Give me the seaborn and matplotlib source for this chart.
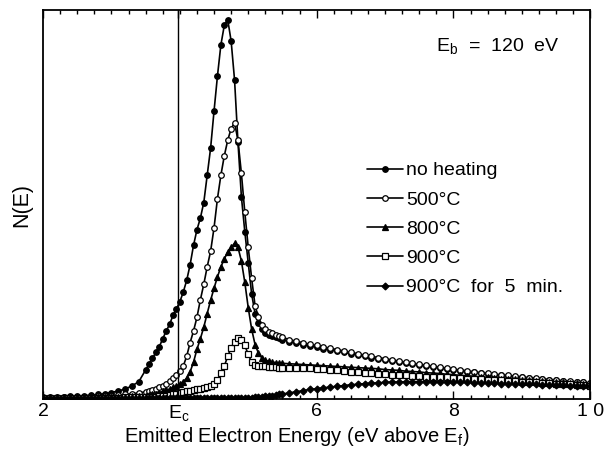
import matplotlib
matplotlib.use('Agg')
import matplotlib.pyplot as plt
from matplotlib.ticker import MultipleLocator
import pandas as pd
import seaborn as sns


energy = [
    2.0, 2.1, 2.2, 2.3, 2.4, 2.5, 2.6, 2.7, 2.8, 2.9, 3.0, 3.1, 3.2, 3.3, 3.4,
    3.5, 3.55, 3.6, 3.65, 3.7, 3.75, 3.8, 3.85, 3.9, 3.95,
    4.0, 4.05, 4.1, 4.15, 4.2, 4.25, 4.3, 4.35, 4.4, 4.45,
    4.5, 4.55, 4.6, 4.65, 4.7, 4.75, 4.8, 4.85, 4.9, 4.95,
    5.0, 5.05, 5.1, 5.15, 5.2, 5.25, 5.3, 5.35, 5.4, 5.45,
    5.5, 5.6, 5.7, 5.8, 5.9, 6.0, 6.1, 6.2, 6.3, 6.4,
    6.5, 6.6, 6.7, 6.8, 6.9, 7.0, 7.1, 7.2, 7.3, 7.4,
    7.5, 7.6, 7.7, 7.8, 7.9, 8.0, 8.1, 8.2, 8.3, 8.4,
    8.5, 8.6, 8.7, 8.8, 8.9, 9.0, 9.1, 9.2, 9.3, 9.4,
    9.5, 9.6, 9.7, 9.8, 9.9, 10.0,
]

no_heating = [
    0.5, 0.5, 0.6, 0.6, 0.7, 0.8, 0.9, 1.0, 1.2, 1.4, 1.7, 2.1, 2.6, 3.4, 4.5,
    7.5, 9.0, 10.5, 12.0, 13.5, 15.5, 17.5, 19.2, 21.5, 23.2,
    25.0, 27.5, 30.5, 34.5, 39.5, 43.5, 46.5, 50.5, 57.5, 64.5,
    74.0, 83.0, 91.0, 96.0, 97.5, 92.0, 82.0, 66.0, 52.0, 43.0,
    35.0, 27.0, 22.0, 19.5, 18.0, 17.0, 16.5, 16.2, 15.9, 15.6,
    15.3, 14.8, 14.4, 14.0, 13.7, 13.4, 13.0, 12.7, 12.4, 12.0,
    11.7, 11.4, 11.0, 10.7, 10.4, 10.1, 9.8, 9.6, 9.3, 9.0,
    8.8, 8.5, 8.3, 8.0, 7.8, 7.5, 7.3, 7.1, 6.9, 6.7,
    6.5, 6.3, 6.1, 6.0, 5.8, 5.6, 5.4, 5.3, 5.1, 5.0,
    4.8, 4.7, 4.5, 4.4, 4.3, 4.1,
]

heated_500 = [
    0.4, 0.4, 0.4, 0.5, 0.5, 0.5, 0.6, 0.6, 0.7, 0.8, 0.9, 1.0, 1.2, 1.4, 1.6,
    1.9, 2.1, 2.3, 2.6, 3.0, 3.5, 4.0, 4.6, 5.4, 6.3,
    7.3, 8.5, 11.0, 14.5, 17.5, 21.0, 25.5, 29.5, 34.0, 38.0,
    44.0, 51.5, 57.5, 62.5, 66.5, 69.5, 71.0, 66.5, 58.0, 48.0,
    39.0, 31.0, 24.0, 21.0, 19.0, 18.0, 17.3, 16.9, 16.5, 16.2,
    15.9, 15.3, 14.9, 14.5, 14.1, 13.8, 13.4, 13.1, 12.7, 12.4,
    12.0, 11.7, 11.3, 11.0, 10.7, 10.4, 10.1, 9.8, 9.5, 9.2,
    9.0, 8.7, 8.5, 8.2, 8.0, 7.7, 7.5, 7.3, 7.0, 6.8,
    6.6, 6.4, 6.2, 6.1, 5.9, 5.7, 5.5, 5.4, 5.2, 5.0,
    4.9, 4.7, 4.6, 4.4, 4.3, 4.2,
]

heated_800 = [
    0.3, 0.3, 0.3, 0.3, 0.4, 0.4, 0.4, 0.4, 0.5, 0.5, 0.5, 0.6, 0.6, 0.7, 0.8,
    0.9, 1.0, 1.2, 1.4, 1.7, 2.0, 2.3, 2.6, 3.0, 3.4,
    3.9, 4.5, 5.4, 7.0, 9.5, 12.8, 15.5, 18.5, 22.0, 25.4,
    28.5, 31.4, 34.0, 36.0, 37.8, 39.0, 40.0, 39.0, 35.5, 30.0,
    23.5, 18.0, 14.0, 11.8, 10.6, 10.0, 9.7, 9.5, 9.4, 9.3,
    9.2, 9.1, 9.0, 8.9, 8.8, 8.7, 8.6, 8.5, 8.4, 8.3,
    8.2, 8.1, 8.0, 7.9, 7.8, 7.6, 7.5, 7.4, 7.2, 7.1,
    7.0, 6.8, 6.7, 6.6, 6.4, 6.3, 6.1, 6.0, 5.9, 5.7,
    5.6, 5.5, 5.3, 5.2, 5.1, 4.9, 4.8, 4.7, 4.6, 4.5,
    4.4, 4.3, 4.2, 4.1, 4.0, 3.9,
]

heated_900 = [
    0.3, 0.3, 0.3, 0.3, 0.3, 0.3, 0.3, 0.4, 0.4, 0.4, 0.4, 0.4, 0.5, 0.5, 0.5,
    0.5, 0.5, 0.6, 0.6, 0.7, 0.8, 0.9, 1.0, 1.2, 1.4,
    1.6, 1.8, 2.0, 2.2, 2.4, 2.6, 2.7, 2.9, 3.1, 3.4,
    4.0, 5.0, 6.7, 8.5, 11.0, 13.2, 14.8, 15.7, 15.2, 13.8,
    11.5, 9.5, 8.9, 8.6, 8.5, 8.4, 8.3, 8.2, 8.2, 8.1,
    8.1, 8.1, 8.0, 8.0, 7.9, 7.8, 7.7, 7.5, 7.4, 7.2,
    7.0, 6.9, 6.7, 6.6, 6.5, 6.4, 6.3, 6.2, 6.1, 6.0,
    5.9, 5.8, 5.8, 5.7, 5.6, 5.5, 5.4, 5.3, 5.2, 5.1,
    5.0, 4.9, 4.8, 4.7, 4.6, 4.5, 4.4, 4.3, 4.2, 4.1,
    4.0, 3.9, 3.8, 3.7, 3.6, 3.5,
]

heated_900_5min = [
    0.3, 0.3, 0.3, 0.3, 0.3, 0.3, 0.3, 0.3, 0.3, 0.3, 0.3, 0.3, 0.3, 0.3, 0.3,
    0.3, 0.3, 0.3, 0.3, 0.3, 0.3, 0.3, 0.3, 0.3, 0.3,
    0.3, 0.3, 0.3, 0.3, 0.3, 0.3, 0.3, 0.3, 0.3, 0.3,
    0.3, 0.3, 0.3, 0.3, 0.3, 0.3, 0.3, 0.3, 0.3, 0.3,
    0.4, 0.4, 0.5, 0.5, 0.6, 0.7, 0.8, 0.9, 1.0, 1.2,
    1.3, 1.6, 1.9, 2.2, 2.5, 2.7, 2.9, 3.1, 3.3, 3.5,
    3.7, 3.8, 4.0, 4.1, 4.2, 4.3, 4.4, 4.4, 4.5, 4.5,
    4.5, 4.5, 4.5, 4.4, 4.4, 4.4, 4.3, 4.3, 4.2, 4.2,
    4.1, 4.1, 4.0, 4.0, 3.9, 3.9, 3.8, 3.8, 3.7, 3.7,
    3.6, 3.6, 3.5, 3.5, 3.4, 3.4,
]

labels = ['no heating', '500°C', '800°C', '900°C', '900°C  for  5  min.']
markers = ['o', 'o', '^', 's', 'D']
filled = [True, False, True, False, True]

e_c = 3.98
tick_labels = ['2', 'E$_\\mathrm{c}$', '6', '8', '1 0']


def main():
    sns.set_style('ticks')
    plt.rcParams['font.family'] = ['Liberation Sans', 'DejaVu Sans']
    plt.rcParams['mathtext.fontset'] = 'custom'
    plt.rcParams['mathtext.rm'] = 'Liberation Sans'
    plt.rcParams['text.color'] = 'black'
    plt.rcParams['axes.labelcolor'] = 'black'
    plt.rcParams['xtick.color'] = 'black'
    plt.rcParams['axes.edgecolor'] = 'black'

    fig = plt.figure(figsize=(6.06, 4.49), dpi=100)
    ax = fig.add_axes([0.071, 0.111, 0.903, 0.867])

    series = [no_heating, heated_500, heated_800, heated_900, heated_900_5min]
    for values, label, marker, is_filled in zip(series, labels, markers, filled):
        df = pd.DataFrame({'energy': energy, 'N': values})
        sns.lineplot(data=df, x='energy', y='N', ax=ax, color='black',
                     linewidth=1.2, marker=marker, markersize=4 if marker != 'D' else 3.5,
                     markerfacecolor='black' if is_filled else 'white',
                     markeredgecolor='black', markeredgewidth=0.9,
                     label=label, sort=False)

    ax.axvline(e_c, color='black', linewidth=1.0)

    ax.set_xlim(2, 10)
    ax.set_ylim(0, 100)
    ax.set_xticks([2, e_c, 6, 8, 10])
    ax.set_xticklabels(tick_labels, fontsize=14)
    ax.xaxis.set_minor_locator(MultipleLocator(0.25))
    ax.tick_params(axis='x', which='major', direction='in', length=6, width=1,
                   top=True, pad=3)
    ax.tick_params(axis='x', which='minor', direction='in', length=3, width=1, top=True)
    ax.set_yticks([])
    for side in ['left', 'right', 'top', 'bottom']:
        ax.spines[side].set_linewidth(1.3)

    ax.set_xlabel('Emitted Electron Energy (eV above E$_\\mathrm{f}$)', fontsize=14.5)
    ax.xaxis.set_label_coords(0.463, -0.066)
    ax.set_ylabel('N(E)', fontsize=15.5, labelpad=8)

    ax.text(0.718, 0.893, 'E$_\\mathrm{b}$  =  120  eV', transform=ax.transAxes, fontsize=14)

    ax.legend(loc='upper left', bbox_to_anchor=(0.592, 0.61), frameon=False,
              fontsize=14, handlelength=1.85, handletextpad=0.15,
              labelspacing=0.6, borderpad=0, borderaxespad=0, numpoints=1)

    fig.savefig('out.png', dpi=100)


if __name__ == "__main__":
    main()
